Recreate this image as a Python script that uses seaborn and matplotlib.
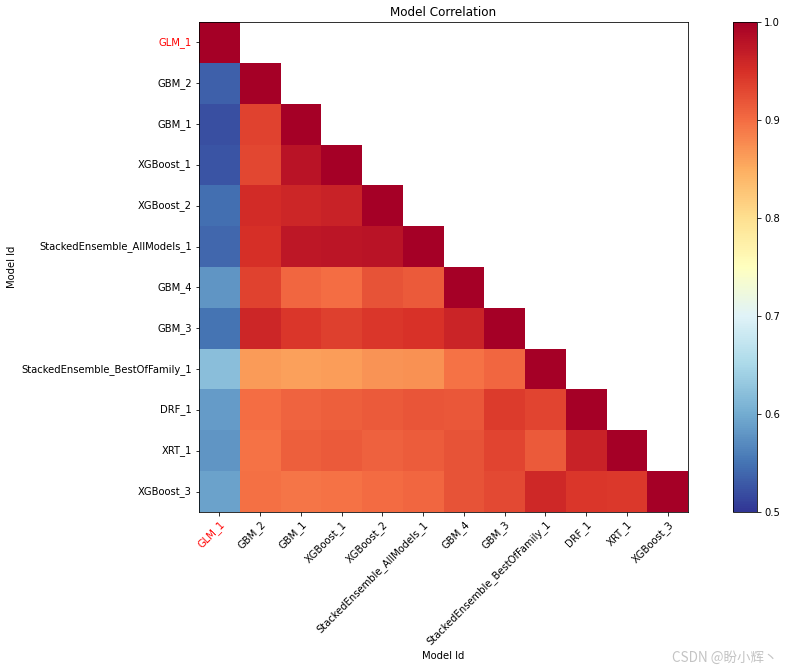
import numpy as np
import pandas as pd
import matplotlib
matplotlib.use("Agg")
import matplotlib.pyplot as plt
import seaborn as sns

# Model ids (same order on both axes)
models = ['GLM_1', 'GBM_2', 'GBM_1', 'XGBoost_1', 'XGBoost_2',
          'StackedEnsemble_AllModels_1', 'GBM_4', 'GBM_3',
          'StackedEnsemble_BestOfFamily_1', 'DRF_1', 'XRT_1', 'XGBoost_3']

# Lower triangle of the correlation matrix, read row by row
row_glm_1 = [1.0]
row_gbm_2 = [0.535, 1.0]
row_gbm_1 = [0.52, 0.935, 1.0]
row_xgb_1 = [0.525, 0.93, 0.98, 1.0]
row_xgb_2 = [0.545, 0.955, 0.96, 0.963, 1.0]
row_se_all = [0.54, 0.95, 0.975, 0.977, 0.98, 1.0]
row_gbm_4 = [0.58, 0.935, 0.905, 0.90, 0.92, 0.915, 1.0]
row_gbm_3 = [0.55, 0.96, 0.945, 0.937, 0.945, 0.948, 0.962, 1.0]
row_se_best = [0.62, 0.865, 0.86, 0.863, 0.87, 0.872, 0.895, 0.905, 1.0]
row_drf_1 = [0.585, 0.90, 0.907, 0.912, 0.915, 0.918, 0.917, 0.94, 0.932, 1.0]
row_xrt_1 = [0.58, 0.895, 0.912, 0.916, 0.91, 0.913, 0.92, 0.932, 0.915, 0.963, 1.0]
row_xgb_3 = [0.59, 0.897, 0.893, 0.895, 0.902, 0.906, 0.92, 0.928, 0.958, 0.945, 0.943, 1.0]

rows = [row_glm_1, row_gbm_2, row_gbm_1, row_xgb_1, row_xgb_2, row_se_all,
        row_gbm_4, row_gbm_3, row_se_best, row_drf_1, row_xrt_1, row_xgb_3]

# Build full symmetric matrix from the lower triangle
n = len(models)
corr = np.ones((n, n))
for i, r in enumerate(rows):
    for j, v in enumerate(r):
        corr[i, j] = v
        corr[j, i] = v
corr_df = pd.DataFrame(corr, index=models, columns=models)

# Hide upper triangle
mask = np.triu(np.ones((n, n), dtype=bool), k=1)

fig = plt.figure(figsize=(787 / 72, 669 / 72), dpi=72)
ax = fig.add_axes([0.2529, 0.2347, 0.6213, 0.7324])
cax = fig.add_axes([0.9314, 0.2347, 0.0305, 0.7324])

sns.heatmap(corr_df, mask=mask, cmap='RdYlBu_r', vmin=0.5, vmax=1.0,
            ax=ax, cbar_ax=cax, square=False)

# Frame and ticks like the original matplotlib figure
for s in ax.spines.values():
    s.set_visible(True)
    s.set_color('black')
    s.set_linewidth(0.8)
ax.tick_params(axis='both', length=3.5, width=0.8)
ax.set_xticklabels(models, rotation=45, ha='right', va='top',
                   rotation_mode='anchor', fontsize=10)
ax.set_yticklabels(models, rotation=0, fontsize=10)
ax.get_xticklabels()[0].set_color('red')
ax.get_yticklabels()[0].set_color('red')

ax.set_title('Model Correlation', fontsize=12)
ax.set_xlabel('Model Id', fontsize=10)
ax.set_ylabel('Model Id', fontsize=10)

cb = ax.collections[0].colorbar
cb.outline.set_linewidth(0.8)
cb.outline.set_edgecolor('black')
cb.set_ticks([0.5, 0.6, 0.7, 0.8, 0.9, 1.0])
cb.set_ticklabels(['0.5', '0.6', '0.7', '0.8', '0.9', '1.0'])
cax.tick_params(labelsize=10, length=3.5, width=0.8)

# Watermark
fig.text(0.988, 0.006, 'CSDN @盼小辉丶', ha='right', va='bottom', fontsize=13.5,
         color='#c4c4c4', family=['Noto Sans CJK SC', 'DejaVu Sans'])

fig.savefig('out.png', dpi=72)
